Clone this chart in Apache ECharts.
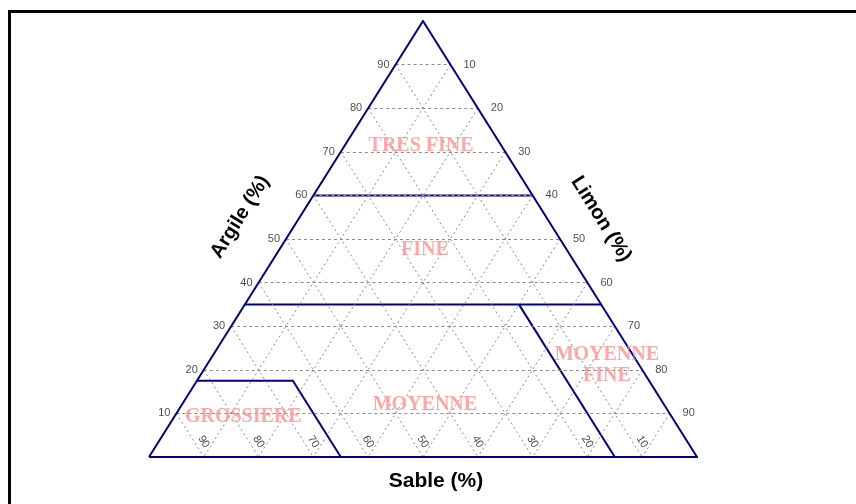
<!DOCTYPE html>
<html>
<head>
<meta charset="utf-8">
<script src="https://cdn.jsdelivr.net/npm/echarts@6/dist/echarts.min.js"></script>
<style>
  html, body { margin: 0; padding: 0; background: #fff; }
  #main { width: 856px; height: 504px; }
</style>
</head>
<body>
<div id="main"></div>
<script>
// tick values on the three sides
var ticks = [10, 20, 30, 40, 50, 60, 70, 80, 90];

// class boundaries, ternary points given as [argile, limon]
var bordTresFine = [[60, 0], [60, 40]];
var bordFine = [[35, 0], [35, 65]];
var bordGrossiere = [[17.5, 0], [17.5, 17.5], [0, 35]];
var bordMoyenneFine = [[35, 50], [0, 85]];

// class names and their anchor point [argile, limon]
var classes = ['TRES FINE', 'FINE', 'MOYENNE', 'GROSSIERE', 'MOYENNE\nFINE'];
var classPos = [[71.3, 14], [47.5, 26.6], [11.9, 44.4], [9.2, 12.6], [21.1, 73]];

// ternary -> cartesian (x = limon + argile/2, y = argile)
function pt(a, l) {
	return [l + a / 2, a];
}

var navy = '#000080';
var gris = '#8a8a8a';

var gridArg = [], gridSab = [], gridLim = [];
for (var i = 0; i < ticks.length; i++) {
	var k = ticks[i];
	gridArg.push({ coords: [pt(k, 0), pt(k, 100 - k)] });
	gridSab.push({ coords: [pt(100 - k, 0), pt(0, 100 - k)] });
	gridLim.push({ coords: [pt(100 - k, k), pt(0, k)] });
}

var bords = [bordTresFine, bordFine, bordGrossiere, bordMoyenneFine].map(function(b) {
	return { coords: b.map(function(p) { return pt(p[0], p[1]); }) };
});
var cadre = [{ coords: [pt(0, 0), pt(100, 0), pt(0, 100), pt(0, 0)] }];

var labArg = ticks.map(function(k) { return { value: pt(k, 0), name: String(k) }; });
var labLim = ticks.map(function(k) { return { value: pt(100 - k, k), name: String(k) }; });
var labSab = ticks.map(function(k) { return { value: pt(0, 100 - k), name: String(k) }; });
var labClasses = classes.map(function(c, i) {
	return { value: pt(classPos[i][0], classPos[i][1]), name: c };
});

var tickFont = { fontFamily: 'Liberation Sans', fontSize: 11, color: '#1a1a1a' };
var titreFont = 'bold 20px "Liberation Sans"';

var myChart = echarts.init(document.getElementById('main'));
var option = {
	animation: false,
	grid: { left: 149, top: 21, width: 548, height: 436 },
	xAxis: {
		type: 'value', min: 0, max: 100, show: false
	},
	yAxis: {
		type: 'value', min: 0, max: 100, show: false
	},
	graphic: [
		{
			type: 'rect', silent: true,
			shape: { x: 9.5, y: 11.5, width: 900, height: 600 },
			style: { fill: 'none', stroke: '#000', lineWidth: 3 }
		},
		{
			type: 'text', x: 240, y: 217, rotation: 58 * Math.PI / 180,
			style: { text: 'Argile (%)', x: 0, y: 0, align: 'center', verticalAlign: 'middle',
				font: titreFont, fill: '#000' }
		},
		{
			type: 'text', x: 601, y: 219, rotation: -58 * Math.PI / 180,
			style: { text: 'Limon (%)', x: 0, y: 0, align: 'center', verticalAlign: 'middle',
				font: titreFont, fill: '#000' }
		},
		{
			type: 'text', x: 436, y: 481,
			style: { text: 'Sable (%)', x: 0, y: 0, align: 'center', verticalAlign: 'middle',
				font: 'bold 21px "Liberation Sans"', fill: '#000' }
		}
	],
	series: [
		{
			type: 'lines', coordinateSystem: 'cartesian2d', polyline: true, silent: true,
			lineStyle: { color: navy, width: 2, opacity: 1 },
			data: bords, z: 2
		},
		{
			type: 'lines', coordinateSystem: 'cartesian2d', silent: true,
			lineStyle: { color: gris, width: 1, type: [3, 3], opacity: 1 },
			data: gridArg, z: 3
		},
		{
			type: 'lines', coordinateSystem: 'cartesian2d', silent: true,
			lineStyle: { color: gris, width: 1, type: [2, 3], opacity: 1 },
			data: gridSab.concat(gridLim), z: 3
		},
		{
			type: 'lines', coordinateSystem: 'cartesian2d', polyline: true, silent: true,
			lineStyle: { color: navy, width: 2, opacity: 1 },
			data: cadre, z: 4
		},
		{
			type: 'scatter', symbolSize: 0, silent: true, data: labArg, z: 5,
			label: Object.assign({ show: true, position: 'left', distance: 6, formatter: '{b}' }, tickFont)
		},
		{
			type: 'scatter', symbolSize: 0, silent: true, data: labLim, z: 5,
			label: Object.assign({ show: true, position: 'right', distance: 13, formatter: '{b}' }, tickFont)
		},
		{
			type: 'scatter', symbolSize: 0, silent: true, data: labSab, z: 5,
			label: Object.assign({ show: true, position: 'inside', offset: [-13, -8], rotate: -58, formatter: '{b}' }, tickFont)
		},
		{
			type: 'scatter', symbolSize: 0, silent: true, data: labClasses, z: 6,
			label: {
				show: true, position: 'inside', formatter: '{b}',
				fontFamily: 'Liberation Serif', fontWeight: 'bold', fontSize: 20,
				color: '#ff9090', lineHeight: 21, align: 'center'
			}
		}
	]
};
myChart.setOption(option);
</script>
</body>
</html>
